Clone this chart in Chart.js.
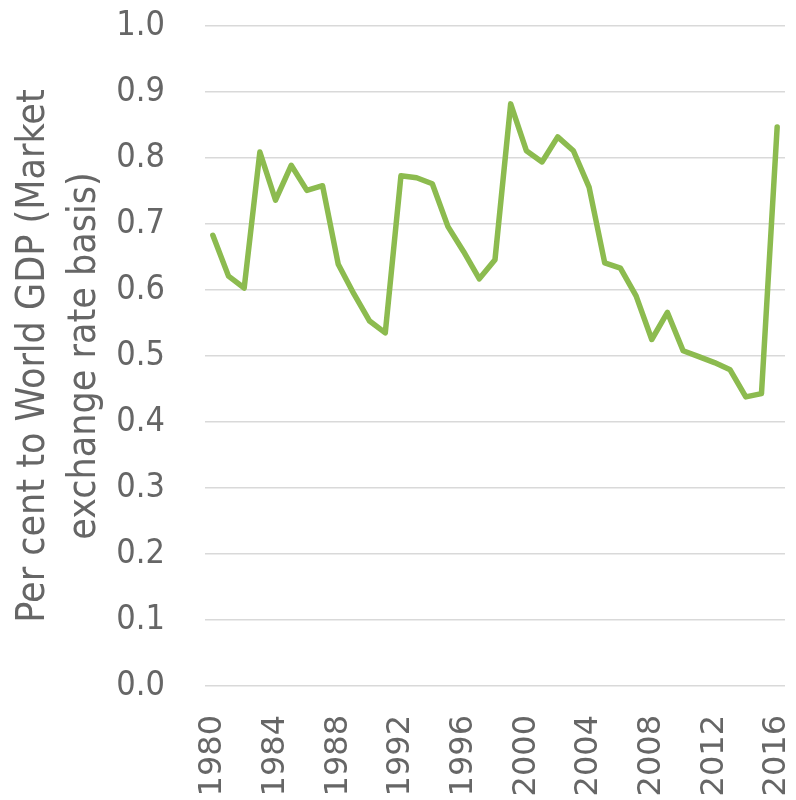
<!DOCTYPE html>
<html><head><meta charset="utf-8">
<script src="https://cdn.jsdelivr.net/npm/chart.js@4.4.1/dist/chart.umd.min.js"></script>
<style>html,body{margin:0;padding:0;background:#fff;}#wrap{width:796px;height:800px;}</style>
</head><body><div id="wrap"><canvas id="c" width="796" height="800"></canvas></div>
<script>
const years = [1980,1981,1982,1983,1984,1985,1986,1987,1988,1989,1990,1991,1992,1993,1994,1995,1996,1997,1998,1999,2000,2001,2002,2003,2004,2005,2006,2007,2008,2009,2010,2011,2012,2013,2014,2015,2016];
const values = [0.683,0.621,0.603,0.809,0.736,0.789,0.751,0.758,0.639,0.594,0.553,0.535,0.773,0.770,0.761,0.696,0.658,0.617,0.646,0.882,0.811,0.794,0.832,0.811,0.756,0.641,0.633,0.591,0.525,0.566,0.508,0.499,0.490,0.479,0.438,0.443,0.847];
const yTitle = ["Per cent to World GDP (Market", "exchange rate basis)"];

new Chart(document.getElementById('c'), {
  type: 'line',
  data: { labels: years.map(String), datasets: [{ data: values, borderColor: '#8cbb4f', borderWidth: 5.5, pointRadius: 0, tension: 0, fill: false, borderJoinStyle: 'round', borderCapStyle: 'round' }] },
  options: {
    responsive: false, animation: false,
    layout: { padding: { top: 26, right: 11, left: 0, bottom: 0 } },
    plugins: { legend: { display: false }, tooltip: { enabled: false } },
    scales: {
      x: {
        offset: true,
        grid: { display: false, drawTicks: false },
        border: { display: false },
        ticks: { autoSkip: false, maxRotation: 90, minRotation: 90, padding: 29, color: '#666666',
          font: { family: 'DejaVu Sans', size: 32 },
          callback: function(v, i) { return i % 4 === 0 ? this.getLabelForValue(v) : ''; } },
        afterFit: s => { s.height = 114; s.paddingLeft = 0; s.paddingRight = 0; }
      },
      y: {
        min: 0, max: 1.0,
        grid: { color: '#d9d9d9', lineWidth: 1.5, drawTicks: false },
        border: { display: false },
        ticks: { stepSize: 0.1, padding: 40, color: '#666666', font: { family: 'DejaVu Sans', weight: 'condensed', size: 34 },
          callback: v => Number(v).toFixed(1) },
        title: { display: true, text: yTitle, color: '#666666', font: { family: 'DejaVu Sans', weight: 'condensed', size: 39, lineHeight: 1.3 }, padding: { top: 9, bottom: 0 } },
        afterFit: s => { s.width = 205; s.paddingTop = 0; s.paddingBottom = 0; }
      }
    }
  }
});
</script></body></html>
